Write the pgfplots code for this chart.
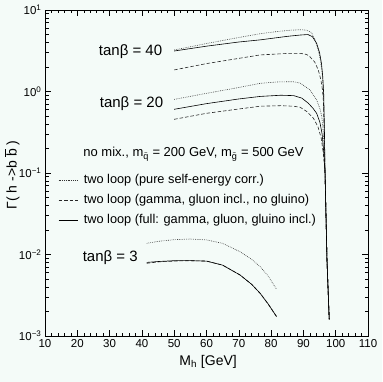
\documentclass[border=0pt]{standalone}
\usepackage{pgfplots}
\pgfplotsset{compat=1.18}
\usepackage{fontspec}
\setmainfont{Liberation Sans}
\definecolor{bg}{RGB}{244,251,248}
\tikzset{
  dotsty/.style={line width=0.6pt, black!80, dash pattern=on 0.7pt off 1.1pt},
  dashsty/.style={line width=0.6pt, black!85, dash pattern=on 3.5pt off 2pt},
  solsty/.style={line width=0.6pt, black},
}
\begin{document}
\begin{tikzpicture}
\path[use as bounding box, fill=bg] (0,0) rectangle (382pt,382pt);
\begin{axis}[
  at={(45pt,46pt)}, anchor=south west,
  scale only axis, width=323pt, height=326pt,
  xmin=10, xmax=110, ymin=0.001, ymax=10, ymode=log,
  xtick={10,20,...,110},
  xticklabels={10,20,30,40,50,60,70,80,90,100,110},
  minor x tick num=4,
  ytick={0.001,0.01,0.1,1,10},
  yticklabels={10\textsuperscript{−3},10\textsuperscript{−2},10\textsuperscript{−1},10\textsuperscript{0},10\textsuperscript{1}},
  tick align=inside, tick pos=both,
  major tick length=6pt, minor tick length=3.5pt,
  axis line style={line width=0.7pt},
  tick style={line width=0.5pt, black},
  tick label style={font=\fontsize{11.5}{13}\selectfont},
  xlabel={M\textsubscript{h} [GeV]},
  ylabel={Γ( h ->b $\overline{\mbox{b}}$ )},
  label style={font=\fontsize{14}{16}\selectfont},
  xlabel style={at={(axis description cs:0.505,-0.08)}, anchor=center},
  ylabel style={at={(axis description cs:-0.102,0.494)}, anchor=center},
  legend image code/.code={\draw[#1] (0pt,0pt) -- (19pt,0pt);},
  legend cell align=left,
  legend style={draw=none, fill=none, at={(rel axis cs:0.031,0.503)}, anchor=north west,
    font=\fontsize{12.75}{14}\selectfont, column sep=6pt, row sep=7.5pt,
    nodes={inner sep=0pt, text height=9.5pt, text depth=3pt}},
]
% tan beta = 40
\addplot[dotsty] coordinates {(50,3.23)(60,3.88)(70,4.6)(76.6,5.12)(82,5.45)(86,5.65)(89,5.73)(91,5.65)(92.5,5.3)(93.6,4.3)(94.6,3.2)(95.3,2.4)(95.8,1.7)(96.2,1.0)(96.45,0.35)(96.7,0.1)(97.3,0.0085)(97.9,0.002)(98,0.0016)};
\addlegendentry{two loop (pure self-energy corr.)}
\addplot[dashsty] coordinates {(50,1.84)(60,2.2)(70,2.55)(76.6,2.81)(85,2.93)(89,2.94)(91,2.85)(92,2.67)(93.5,2.3)(94.6,1.84)(95.4,1.4)(95.9,1.05)(96.2,0.75)(96.45,0.3)(96.7,0.1)(97.3,0.0085)(97.9,0.002)(98,0.0016)};
\addlegendentry{two loop (gamma, gluon incl., no gluino)}
\addplot[solsty] coordinates {(50,3.14)(60,3.6)(70,4.05)(76.6,4.3)(85,4.75)(89,4.93)(91.4,5.0)(92.8,4.7)(94.1,3.9)(95.0,3.0)(95.6,2.2)(96.0,1.5)(96.3,0.9)(96.5,0.35)(96.7,0.1)(97.3,0.0085)(97.9,0.002)(98,0.0016)};
\addlegendentry{two loop (full: gamma, gluon, gluino incl.)}
% tan beta = 20
\addplot[dotsty, forget plot] coordinates {(50,0.80)(60,0.95)(70,1.12)(76.6,1.26)(82,1.31)(86.8,1.32)(89,1.27)(92,1.05)(94.1,0.79)(95.2,0.6)(95.7,0.49)(96.2,0.3)(96.7,0.1)(97.3,0.0085)(97.9,0.002)(98,0.0016)};
\addplot[dashsty, forget plot] coordinates {(50,0.456)(60,0.54)(70,0.61)(76.6,0.66)(83,0.67)(87,0.66)(89,0.64)(91,0.57)(93.1,0.47)(94.5,0.37)(95.5,0.27)(96.2,0.17)(96.7,0.1)(97.3,0.0085)(97.9,0.002)(98,0.0016)};
\addplot[solsty, forget plot] coordinates {(50,0.605)(60,0.71)(70,0.81)(76.6,0.87)(83,0.9)(87,0.89)(89.5,0.83)(91.5,0.72)(93,0.62)(94.1,0.54)(95.1,0.42)(95.8,0.3)(96.3,0.18)(96.7,0.1)(97.3,0.0085)(97.9,0.002)(98,0.0016)};
% tan beta = 3
\addplot[dotsty, forget plot] coordinates {(41.5,0.0137)(45,0.0145)(50,0.0152)(54.9,0.0155)(60,0.0151)(65,0.0137)(70.4,0.0108)(74,0.0087)(76.6,0.0071)(79,0.0055)(81.7,0.00374)};
\addplot[dashsty, forget plot] coordinates {(41.5,0.0078)(45,0.0081)(50,0.0083)(55,0.0084)(60,0.0083)(65,0.0074)(70.4,0.0056)(74,0.0043)(76.6,0.00334)(79,0.0025)(81.7,0.00173)};
\addplot[solsty, forget plot] coordinates {(41.5,0.0080)(45,0.0082)(50,0.0084)(55,0.0084)(60,0.0083)(65,0.0074)(70.4,0.0056)(74,0.0043)(76.6,0.00334)(79,0.0025)(81.7,0.00173)};
% annotations
\node[anchor=west, font=\fontsize{15}{17}\selectfont] at (axis cs:25.6,3.05) {tanβ = 40};
\node[anchor=west, font=\fontsize{15}{17}\selectfont] at (axis cs:25.9,0.72) {tanβ = 20};
\node[anchor=west, font=\fontsize{15}{17}\selectfont] at (axis cs:20.6,0.00906) {tanβ = 3};
\node[anchor=west, font=\fontsize{13}{15}\selectfont] at (axis cs:20.8,0.171) {no mix., m\textsubscript{$\tilde{\mbox{q}}$} = 200 GeV, m\textsubscript{$\tilde{\mbox{g}}$} = 500 GeV};
\end{axis}
\end{tikzpicture}
\end{document}
